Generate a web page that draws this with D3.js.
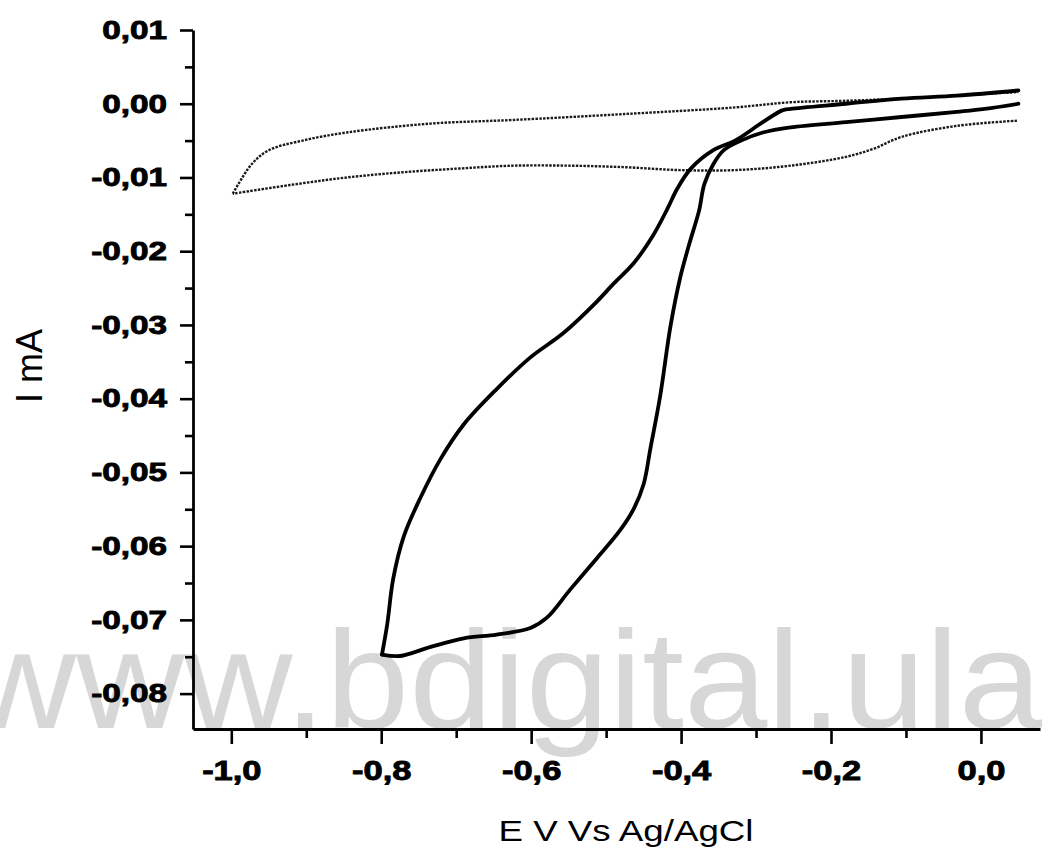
<!DOCTYPE html>
<html>
<head>
<meta charset="utf-8">
<script src="https://cdn.jsdelivr.net/npm/d3@7"></script>
<style>
  html, body { margin: 0; padding: 0; background: #fff; }
  svg { display: block; }
</style>
</head>
<body>
<svg id="chart" width="1049" height="851"></svg>
<script>
// ---------------- data ----------------
// Background (dotted) voltammogram, anodic branch (E in V, I in mA)
const bgAnodicE = [-0.998, -0.990, -0.972, -0.950, -0.905, -0.846, -0.735, -0.624, -0.476, -0.328, -0.254, -0.180, -0.106, -0.032, 0.050];
const bgAnodicI = [-0.0122, -0.0108, -0.0081, -0.0063, -0.0050, -0.0039, -0.0027, -0.0022, -0.0014, -0.0005, 0.0002, 0.0004, 0.0007, 0.0011, 0.0016];
// Background (dotted) voltammogram, cathodic branch
const bgCathodicE = [0.048, -0.032, -0.106, -0.143, -0.180, -0.254, -0.328, -0.402, -0.476, -0.550, -0.624, -0.698, -0.772, -0.846, -0.920, -0.998];
const bgCathodicI = [-0.0023, -0.0030, -0.0045, -0.0061, -0.0072, -0.0084, -0.0090, -0.0090, -0.0086, -0.0084, -0.0084, -0.0088, -0.0093, -0.0100, -0.0110, -0.0122];
// Sample (solid) voltammogram, cathodic sweep
const cvCathodicE = [0.050, 0.005, -0.032, -0.106, -0.180, -0.254, -0.291, -0.320, -0.343, -0.357, -0.369, -0.376, -0.389, -0.401, -0.414, -0.428, -0.441, -0.450, -0.463, -0.481, -0.512, -0.548, -0.579, -0.601, -0.646, -0.690, -0.735, -0.775, -0.799];
const cvCathodicI = [0.0000, -0.0007, -0.0011, -0.0018, -0.0025, -0.0032, -0.0039, -0.0050, -0.0063, -0.0082, -0.0109, -0.0145, -0.0190, -0.0235, -0.0301, -0.0397, -0.0468, -0.0516, -0.0549, -0.0578, -0.0616, -0.0659, -0.0697, -0.0711, -0.0720, -0.0725, -0.0737, -0.0749, -0.0747];
// Sample (solid) voltammogram, anodic sweep
const cvAnodicE = [-0.799, -0.792, -0.784, -0.770, -0.748, -0.721, -0.690, -0.646, -0.601, -0.557, -0.512, -0.490, -0.463, -0.437, -0.418, -0.405, -0.387, -0.357, -0.328, -0.291, -0.265, -0.254, -0.180, -0.106, -0.032, 0.050];
const cvAnodicI = [-0.0747, -0.0706, -0.0644, -0.0587, -0.0535, -0.0482, -0.0435, -0.0387, -0.0344, -0.0311, -0.0268, -0.0244, -0.0216, -0.0178, -0.0142, -0.0115, -0.0088, -0.0063, -0.0050, -0.0025, -0.0009, -0.0007, 0.0000, 0.0007, 0.0011, 0.0018];

// ticks
const xMajorTicks = [-1.0, -0.8, -0.6, -0.4, -0.2, 0.0];
const xMinorTicks = [-0.9, -0.7, -0.5, -0.3, -0.1];
const yMajorTicks = [0.01, 0.0, -0.01, -0.02, -0.03, -0.04, -0.05, -0.06, -0.07, -0.08];
const yMinorTicks = [0.005, -0.005, -0.015, -0.025, -0.035, -0.045, -0.055, -0.065, -0.075];
const xTitle = "E V Vs Ag/AgCl";
const yTitle = "I mA";
const watermark = "www.bdigital.ula";

// ---------------- drawing ----------------
const svg = d3.select("#chart");
svg.append("rect").attr("width", 1049).attr("height", 851).attr("fill", "#fff");

const x = d3.scaleLinear().domain([-1.0511, 0.0788]).range([193, 1040]);
const y = d3.scaleLinear().domain([-0.0848, 0.01]).range([729, 30]);

const fmt = (d, n) => (d < -1e-9 ? "-" : "") + Math.abs(d).toFixed(n).replace(".", ",");

// watermark (behind)
svg.append("text")
  .attr("x", -32).attr("y", 728)
  .attr("font-family", "'Liberation Sans', Arial, sans-serif")
  .attr("font-size", 140)
  .attr("fill", "#d7d7d7")
  .attr("textLength", 1074)
  .attr("lengthAdjust", "spacingAndGlyphs")
  .text(watermark);

// curves
const zip = (E, I) => E.map((e, i) => [e, I[i]]);
const line = d3.line().x(d => x(d[0])).y(d => y(d[1])).curve(d3.curveCatmullRom.alpha(0.5));

const dotted = [zip(bgAnodicE, bgAnodicI), zip(bgCathodicE, bgCathodicI)];
svg.append("g").selectAll("path").data(dotted).join("path")
  .attr("d", line)
  .attr("fill", "none")
  .attr("stroke", "#1a1a1a")
  .attr("stroke-width", 2.4)
  .attr("stroke-dasharray", "2.5,1.3");

const solid = [zip(cvCathodicE, cvCathodicI), zip(cvAnodicE, cvAnodicI)];
svg.append("g").selectAll("path").data(solid).join("path")
  .attr("d", line)
  .attr("fill", "none")
  .attr("stroke", "#000")
  .attr("stroke-width", 3.8)
  .attr("stroke-linejoin", "round")
  .attr("stroke-linecap", "round");

// axes
const font = "'Liberation Sans', Arial, sans-serif";
const styleAxis = g => {
  g.select(".domain").attr("stroke", "#000").attr("stroke-width", 2.8);
  g.selectAll(".tick line").attr("stroke", "#000").attr("stroke-width", 2.6);
};

const xAxisG = svg.append("g").attr("transform", `translate(0,${y.range()[0]})`)
  .call(d3.axisBottom(x).tickValues(xMajorTicks).tickSize(15).tickPadding(16).tickSizeOuter(0)
    .tickFormat(d => fmt(d, 1)))
  .call(styleAxis);
xAxisG.selectAll(".tick text").attr("font-family", font).attr("font-size", 28)
  .attr("font-weight", "bold").attr("fill", "#000")
  .attr("stroke", "#000").attr("stroke-width", 0.9);

svg.append("g").attr("transform", `translate(0,${y.range()[0]})`)
  .call(d3.axisBottom(x).tickValues(xMinorTicks).tickSize(9).tickSizeOuter(0).tickFormat(""))
  .call(g => g.select(".domain").remove())
  .call(styleAxis);

const yAxisG = svg.append("g").attr("transform", `translate(${x.range()[0]},0)`)
  .call(d3.axisLeft(y).tickValues(yMajorTicks).tickSize(13).tickPadding(13).tickSizeOuter(0)
    .tickFormat(d => fmt(d, 2)))
  .call(styleAxis);
yAxisG.selectAll(".tick text").attr("font-family", font).attr("font-size", 26)
  .attr("font-weight", "bold").attr("fill", "#000")
  .attr("stroke", "#000").attr("stroke-width", 0.9);

svg.append("g").attr("transform", `translate(${x.range()[0]},0)`)
  .call(d3.axisLeft(y).tickValues(yMinorTicks).tickSize(8).tickSizeOuter(0).tickFormat(""))
  .call(g => g.select(".domain").remove())
  .call(styleAxis);

// widen tick labels to match the reference's wide bold face
xAxisG.selectAll(".tick text").each(function () {
  const w = this.getComputedTextLength();
  d3.select(this).attr("textLength", w * 1.23).attr("lengthAdjust", "spacingAndGlyphs");
});
yAxisG.selectAll(".tick text").each(function () {
  const w = this.getComputedTextLength();
  d3.select(this).attr("textLength", w * 1.28).attr("lengthAdjust", "spacingAndGlyphs");
});

// titles
svg.append("text")
  .attr("x", 626).attr("y", 841)
  .attr("text-anchor", "middle")
  .attr("font-family", font).attr("font-size", 29)
  .attr("textLength", 255).attr("lengthAdjust", "spacingAndGlyphs")
  .text(xTitle);

svg.append("text")
  .attr("transform", "translate(42,366) rotate(-90)")
  .attr("text-anchor", "middle")
  .attr("font-family", font).attr("font-size", 36)
  .text(yTitle);
</script>
</body>
</html>
